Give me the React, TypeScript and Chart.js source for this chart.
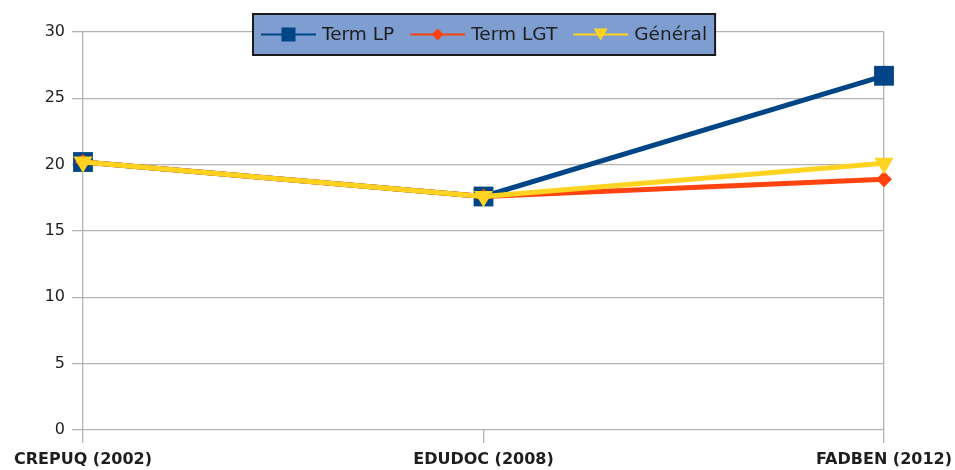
import React, { useEffect, useRef } from "react";
import { Chart, registerables } from "chart.js";

Chart.register(...registerables);

const categories = ["CREPUQ (2002)", "EDUDOC (2008)", "FADBEN (2012)"];
const seriesNames = ["Term LP", "Term LGT", "Général"];
const termLP = [20.2, 17.6, 26.7];
const termLGT = [20.2, 17.6, 18.9];
const general = [20.2, 17.6, 20.1];
const yMin = 0;
const yMax = 30;
const yStep = 5;

const FONT = '"DejaVu Sans", "Liberation Sans", Arial, sans-serif';
const TEXT = "#1e1e1e";
const GRID = "#b3b3b3";

const boxLegend = {
  id: "boxLegend",
  afterDraw(chart: any) {
    const ctx = chart.ctx as CanvasRenderingContext2D;
    const area = chart.chartArea;
    ctx.save();
    ctx.font = `18.5px ${FONT}`;
    const items = chart.data.datasets.map((ds: any) => ({
      label: ds.label,
      color: ds.borderColor,
      style: ds.pointStyle,
    }));
    const lineW = 55;
    const gapT = 6;
    const gapItem = 16;
    const pad = 8;
    const widths = items.map((it: any) => ctx.measureText(it.label).width);
    const total =
      pad * 2 +
      widths.reduce((s: number, w: number) => s + lineW + gapT + w, 0) +
      gapItem * (items.length - 1);
    const cx = (area.left + area.right) / 2 + 1;
    const left = Math.round(cx - total / 2);
    const top = area.top - 18;
    const h = 41;
    ctx.fillStyle = "#7e9dd1";
    ctx.fillRect(left, top, total, h);
    ctx.lineWidth = 2;
    ctx.strokeStyle = "#1a1a1a";
    ctx.strokeRect(left, top, total, h);
    let x = left + pad;
    const y = top + h / 2;
    items.forEach((it: any, i: number) => {
      ctx.strokeStyle = it.color;
      ctx.fillStyle = it.color;
      ctx.lineWidth = 2;
      ctx.beginPath();
      ctx.moveTo(x, y);
      ctx.lineTo(x + lineW, y);
      ctx.stroke();
      const mx = x + lineW / 2;
      ctx.beginPath();
      if (it.style === "rect") {
        ctx.rect(mx - 7, y - 7, 14, 14);
      } else if (it.style === "rectRot") {
        ctx.moveTo(mx, y - 6);
        ctx.lineTo(mx + 6, y);
        ctx.lineTo(mx, y + 6);
        ctx.lineTo(mx - 6, y);
        ctx.closePath();
      } else {
        ctx.moveTo(mx - 7, y - 6);
        ctx.lineTo(mx + 7, y - 6);
        ctx.lineTo(mx, y + 6);
        ctx.closePath();
      }
      ctx.fill();
      ctx.fillStyle = TEXT;
      ctx.textAlign = "left";
      ctx.textBaseline = "middle";
      ctx.fillText(it.label, x + lineW + gapT, y + 1);
      x += lineW + gapT + widths[i] + gapItem;
    });
    ctx.restore();
  },
};

export default function App() {
  const ref = useRef<HTMLCanvasElement | null>(null);

  useEffect(() => {
    if (!ref.current) return;
    const chart = new Chart(ref.current, {
      type: "line",
      data: {
        labels: categories,
        datasets: [
          {
            label: seriesNames[0],
            data: termLP,
            borderColor: "#004586",
            backgroundColor: "#004586",
            borderWidth: 5,
            pointStyle: "rect",
            pointRadius: 14,
            pointBorderWidth: 0,
            pointBackgroundColor: "#004586",
            order: 3,
            clip: false as any,
            tension: 0,
          },
          {
            label: seriesNames[1],
            data: termLGT,
            borderColor: "#ff420e",
            backgroundColor: "#ff420e",
            borderWidth: 5,
            pointStyle: "rectRot",
            pointRadius: 8,
            pointBorderWidth: 0,
            pointBackgroundColor: "#ff420e",
            order: 2,
            clip: false as any,
            tension: 0,
          },
          {
            label: seriesNames[2],
            data: general,
            borderColor: "#ffd320",
            backgroundColor: "#ffd320",
            borderWidth: 5,
            pointStyle: "triangle",
            pointRotation: 180,
            pointRadius: 11,
            pointBorderWidth: 0,
            pointBackgroundColor: "#ffd320",
            order: 1,
            clip: false as any,
            tension: 0,
          },
        ],
      },
      options: {
        responsive: true,
        maintainAspectRatio: false,
        animation: false,
        events: [],
        layout: { padding: { left: 0, right: 71, top: 32, bottom: 0 } },
        plugins: {
          legend: { display: false },
          tooltip: { enabled: false },
        },
        scales: {
          x: {
            type: "category",
            offset: false,
            grid: {
              color: (c: any) => (c.index === 1 ? "rgba(0,0,0,0)" : GRID),
              tickColor: GRID,
              tickLength: 13,
              lineWidth: 1.3,
            },
            border: { display: false },
            ticks: {
              color: TEXT,
              font: { family: FONT, size: 16, weight: "bold" },
              maxRotation: 0,
              autoSkip: false,
              padding: 7,
            },
            afterFit: (s: any) => {
              s.height = 40;
              s.paddingLeft = 0;
              s.paddingRight = 0;
            },
          },
          y: {
            min: yMin,
            max: yMax,
            grid: { color: GRID, tickLength: 11, lineWidth: 1.3 },
            border: { display: false },
            ticks: {
              stepSize: yStep,
              color: TEXT,
              font: { family: FONT, size: 16 },
              padding: 7,
            },
            afterFit: (s: any) => {
              s.width = 83;
              s.paddingTop = 0;
              s.paddingBottom = 0;
            },
          },
        },
      },
      plugins: [boxLegend],
    });
    return () => chart.destroy();
  }, []);

  return (
    <div style={{ position: "fixed", left: 0, top: 0, width: 955, height: 470, background: "#ffffff" }}>
      <canvas ref={ref} />
    </div>
  );
}
